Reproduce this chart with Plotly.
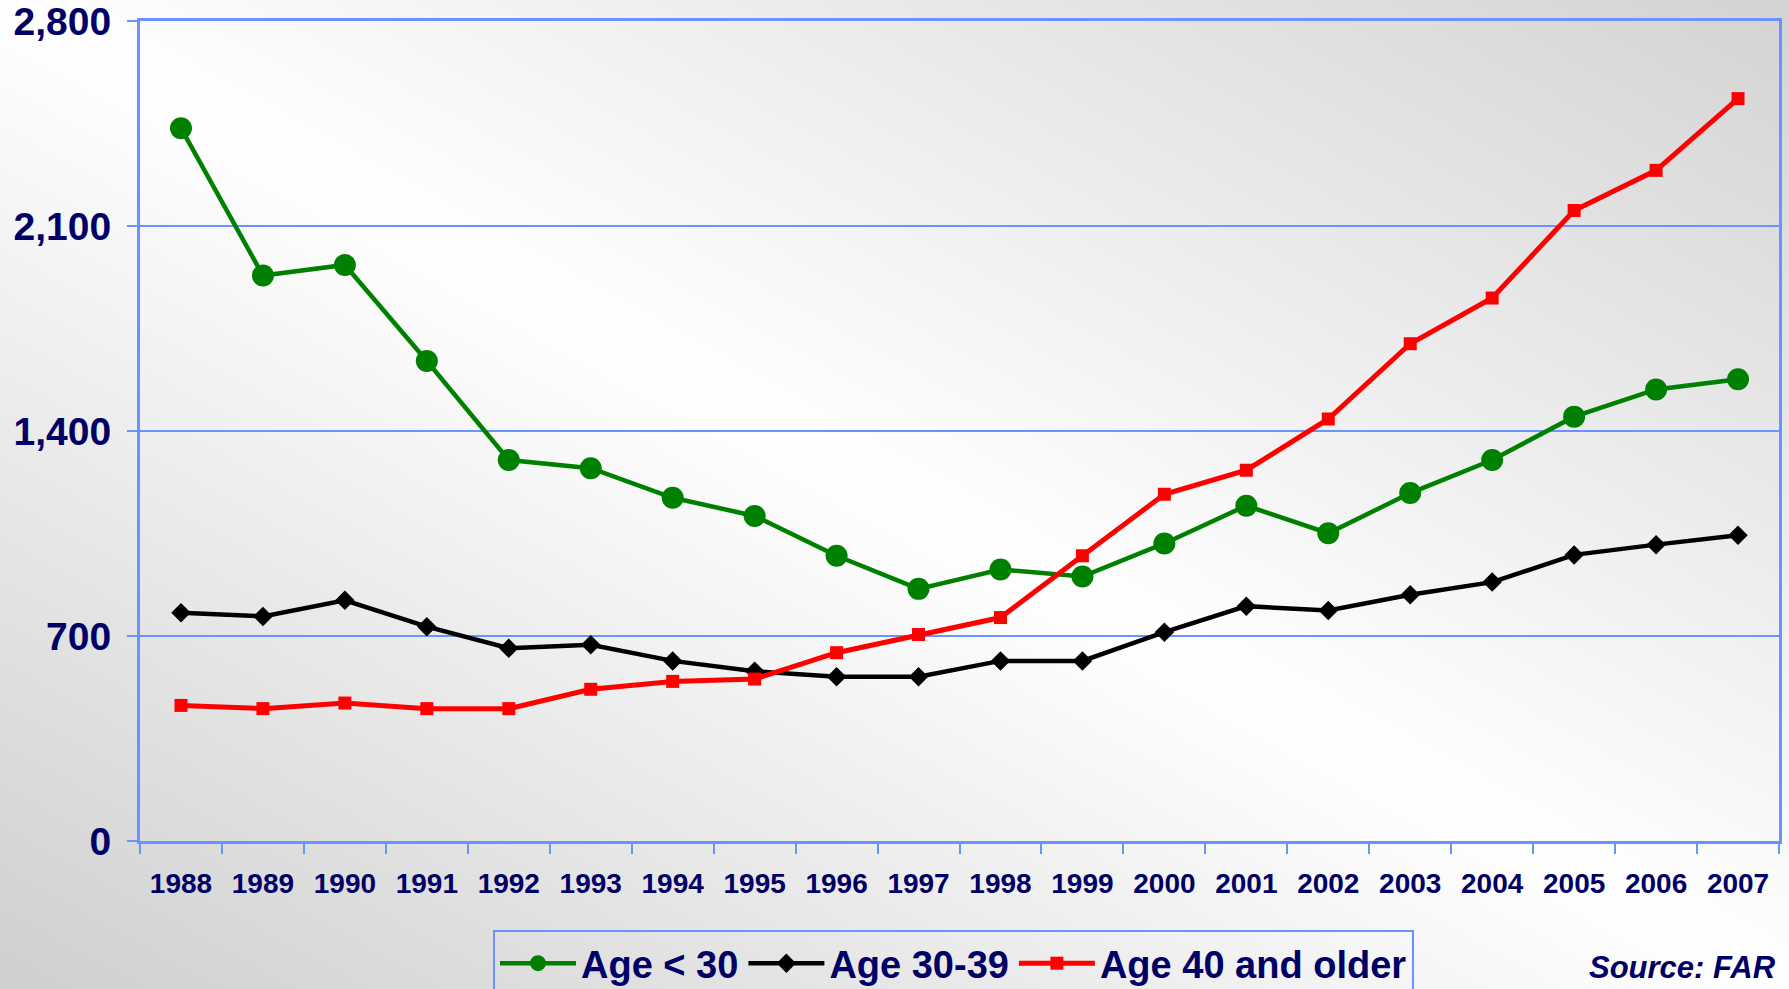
import base64
import plotly.graph_objects as go

years = [str(y) for y in range(1988, 2008)]
age_under_30 = [2434, 1931, 1967, 1639, 1301, 1273, 1172, 1110, 974, 861,
                927, 903, 1016, 1145, 1051, 1188, 1301, 1449, 1542, 1577]
age_30_39 = [779, 767, 822, 732, 658, 670, 615, 580, 561, 561,
             615, 615, 713, 802, 787, 841, 884, 977, 1012, 1044]
age_40_plus = [463, 452, 471, 452, 452, 518, 545, 553, 643, 705,
               763, 974, 1184, 1266, 1441, 1698, 1854, 2153, 2290, 2535]
y_ticks = [0, 700, 1400, 2100, 2800]
y_tick_labels = ["0", "700", "1,400", "2,100", "2,800"]

W, H = 1789, 989
ML, MR, MT, MB = 140, 10, 21, 148
PW, PH = W - ML - MR, H - MT - MB

NAVY = "#000066"
BLUE = "#6b93ff"
FONT = "Liberation Sans, Arial, sans-serif"

svg = (
    '<svg xmlns="http://www.w3.org/2000/svg" width="1789" height="989" '
    'preserveAspectRatio="none" viewBox="0 0 1789 989">'
    '<defs><linearGradient id="g" x1="0" y1="1" x2="1" y2="0">'
    '<stop offset="0" stop-color="#cfcfcf"/>'
    '<stop offset="0.5" stop-color="#ffffff"/>'
    '<stop offset="1" stop-color="#d3d3d3"/>'
    '</linearGradient></defs>'
    '<rect width="1789" height="989" fill="url(#g)"/></svg>'
)
bg_uri = "data:image/svg+xml;base64," + base64.b64encode(svg.encode()).decode()

fig = go.Figure()
fig.add_trace(go.Scatter(
    x=years, y=age_under_30, name="Age < 30", mode="lines+markers",
    line=dict(color="#008000", width=4.5),
    marker=dict(symbol="circle", size=22, color="#008000"),
))
fig.add_trace(go.Scatter(
    x=years, y=age_30_39, name="Age 30-39", mode="lines+markers",
    line=dict(color="#000000", width=4.5),
    marker=dict(symbol="diamond", size=15, color="#000000"),
))
fig.add_trace(go.Scatter(
    x=years, y=age_40_plus, name="Age 40 and older", mode="lines+markers",
    line=dict(color="#ff0000", width=5),
    marker=dict(symbol="square", size=13, color="#ff0000"),
))

fig.update_layout(
    width=W, height=H,
    margin=dict(l=ML, r=MR, t=MT, b=MB, autoexpand=False),
    paper_bgcolor="rgba(0,0,0,0)",
    plot_bgcolor="rgba(0,0,0,0)",
    font=dict(family=FONT, color=NAVY),
    images=[dict(
        source=bg_uri, xref="paper", yref="paper",
        x=-ML / PW, y=1 + MT / PH, sizex=W / PW, sizey=H / PH,
        xanchor="left", yanchor="top", sizing="stretch", layer="below",
    )],
    xaxis=dict(
        type="category", range=[-0.5, len(years) - 0.5],
        tickson="boundaries", ticks="outside", ticklen=10,
        tickwidth=2, tickcolor=BLUE, showgrid=False, showline=True,
        linecolor=BLUE, linewidth=3, mirror=True, zeroline=False,
        tickfont=dict(size=28, family=FONT, color=NAVY, weight="bold"),
        ticklabelstandoff=15, ticklabeloverflow="allow",
    ),
    yaxis=dict(
        range=[0, 2800], tickvals=y_ticks, ticktext=y_tick_labels,
        ticks="outside", ticklen=10, tickwidth=2, tickcolor=BLUE,
        showgrid=True, gridcolor=BLUE, gridwidth=2,
        showline=True, linecolor=BLUE, linewidth=3, mirror=True,
        zeroline=False,
        tickfont=dict(size=39, family=FONT, color=NAVY, weight="bold"),
        ticklabelstandoff=8, ticklabeloverflow="allow",
    ),
    legend=dict(
        orientation="h", x=(493 - ML) / PW, y=-(930 - MT - PH) / PH,
        xanchor="left", yanchor="top",
        bgcolor="rgba(0,0,0,0)", bordercolor=BLUE, borderwidth=2,
        font=dict(size=38, family=FONT, color=NAVY, weight="bold"),
        itemwidth=76, tracegroupgap=0,
    ),
    annotations=[dict(
        text="<i><b>Source: FAR</b></i>", xref="paper", yref="paper",
        x=(1778 - ML) / PW, y=-(968 - MT - PH) / PH,
        xanchor="right", yanchor="middle", showarrow=False,
        font=dict(size=31, family=FONT, color=NAVY),
    )],
)

fig.write_html(
    "out.html",
    config={"displayModeBar": False},
    post_script="document.body.style.margin='0';document.body.style.overflow='hidden';",
)
